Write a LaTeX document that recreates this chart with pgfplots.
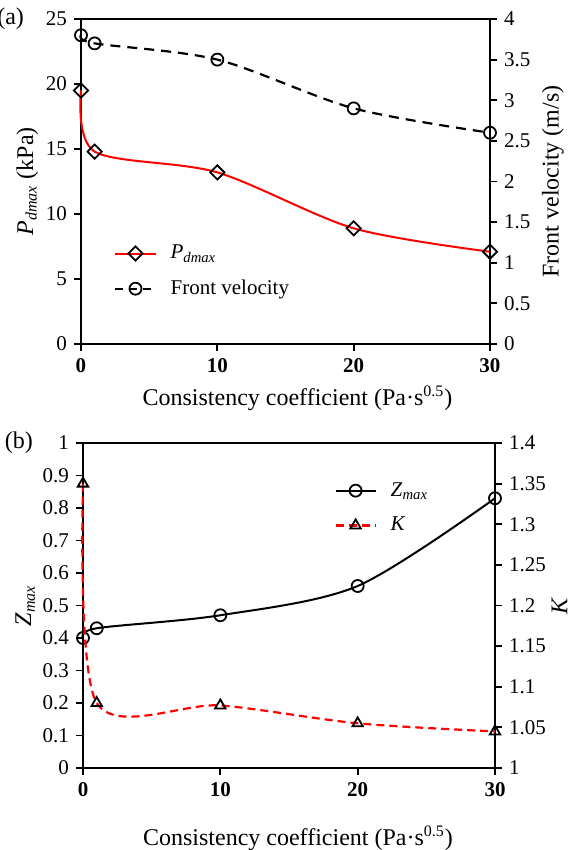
\documentclass[border=0pt]{standalone}
\usepackage{pgfplots}
\pgfplotsset{compat=1.18}
\usepackage{fontspec}
\setmainfont{Liberation Serif}

% Peak dynamic pressure and front velocity
\pgfplotstableread{
x   p
0   19.5
1   14.8
10  13.2
20  8.9
30  7.1
}\pdmaxdata
\pgfplotstableread{
x   v
0   3.8
1   3.7
10  3.5
20  2.9
30  2.6
}\velodata
% Maximum run-up height and amplification factor
\pgfplotstableread{
x   z
0   0.40
1   0.43
10  0.47
20  0.56
30  0.83
}\zmaxdata
\pgfplotstableread{
x   k
0   1.35
1   1.08
10  1.077
20  1.055
30  1.045
}\kdata

\pgfplotsset{
  panel/.style={
    scale only axis, xmin=0, xmax=30, xtick={0,10,20,30},
    xticklabels={\textbf{0},\textbf{10},\textbf{20},\textbf{30}},
    tick align=outside, major tick length=3.5pt,
    /pgf/number format/assume math mode=true,
    /pgf/number format/fixed,
    tick label style={font=\fontsize{10.5}{12}\selectfont},
    label style={font=\fontsize{12}{14}\selectfont},
    axis line style={line width=1pt},
    every tick/.style={black, line width=0.9pt},
    clip=false,
  },
  twin/.style={
    panel, axis y line*=right, axis x line=none,
  },
  legend image code/.code={
    \draw[mark repeat=2,mark phase=2]
      plot coordinates {(0pt,0pt) (10pt,0pt) (20pt,0pt)};
  },
  mk/.style={mark options={solid, draw=black, fill=none, line width=0.9pt}, mark size=3pt},
  dmk/.style={mark=square, mark options={solid, draw=black, fill=none, line width=0.9pt, rotate=45}, mark size=2.5pt},
  leg/.style={legend style={draw=none, fill=none, at={#1}, anchor=north west,
    font=\fontsize{10.5}{12}\selectfont, row sep=5pt,
    /tikz/every odd column/.style={column sep=5pt}}, legend cell align=left},
}

\begin{document}
\begin{tikzpicture}
% ---------------- panel (a) ----------------
\begin{axis}[panel, at={(0,0)}, width=204.5pt, height=162.5pt,
  ymin=0, ymax=25, ytick={0,5,10,15,20,25}, ytick pos=left, xtick pos=bottom,
  ylabel={\textit{P}\textsubscript{\textit{dmax}} (kPa)}, ylabel shift=-3pt,
  xlabel={Consistency coefficient (Pa·s\textsuperscript{0.5})},
  xlabel style={xshift=6pt},
  leg={(0.066,0.33)},
]
\addplot[red, line width=1pt, smooth, dmk] table[x=x,y=p] {\pdmaxdata};
\addlegendentry{\textit{P}\textsubscript{\textit{dmax}}}
\addlegendimage{black, line width=1.1pt, dash pattern=on 4pt off 3pt, mark=o, mk}
\addlegendentry{Front velocity}
\node[anchor=east, font=\fontsize{12}{14}\selectfont] at (rel axis cs:0,1) [xshift=-25pt] {(a)};
\end{axis}
\begin{axis}[twin, at={(0,0)}, width=204.5pt, height=162.5pt,
  ymin=0, ymax=4, ytick={0,0.5,1,1.5,2,2.5,3,3.5,4},
  ylabel={Front velocity (m/s)}, ylabel shift=-1pt,
]
\addplot[black, line width=1.1pt, dash pattern=on 5pt off 3.5pt, smooth, mark=o, mk] table[x=x,y=v] {\velodata};
\end{axis}

% ---------------- panel (b) ----------------
\begin{axis}[panel, at={(1pt,-212pt)}, width=206pt, height=162.5pt,
  ymin=0, ymax=1, ytick={0,0.1,0.2,0.3,0.4,0.5,0.6,0.7,0.8,0.9,1}, ytick pos=left, xtick pos=bottom,
  ylabel={\textit{Z}\textsubscript{\textit{max}}}, ylabel shift=-3pt,
  xlabel={Consistency coefficient (Pa·s\textsuperscript{0.5})},
  xlabel style={yshift=-8pt, xshift=4.5pt},
  leg={(0.595,0.905)},
]
\addplot[black, line width=1pt, smooth, mark=o, mk] table[x=x,y=z] {\zmaxdata};
\addlegendentry{\textit{Z}\textsubscript{\textit{max}}}
\addlegendimage{red, line width=1.1pt, dash pattern=on 4pt off 2.5pt, mark=triangle, mk}
\addlegendentry{\textit{K}}
\node[anchor=east, font=\fontsize{12}{14}\selectfont] at (rel axis cs:0,1) [xshift=-21.5pt] {(b)};
\end{axis}
\begin{axis}[twin, at={(1pt,-212pt)}, width=206pt, height=162.5pt,
  ymin=1, ymax=1.4, ytick={1,1.05,1.1,1.15,1.2,1.25,1.3,1.35,1.4},
  yticklabel style={/pgf/number format/precision=2},
  ylabel={\textit{K}}, ylabel shift=-4pt,
]
\addplot[red, line width=1.1pt, dash pattern=on 4pt off 2.5pt, smooth, mark=triangle, mk] table[x=x,y=k] {\kdata};
\end{axis}

\pgfresetboundingbox
\useasboundingbox (-40.5pt,-253pt) rectangle (247.5pt,172pt);
\end{tikzpicture}
\end{document}
